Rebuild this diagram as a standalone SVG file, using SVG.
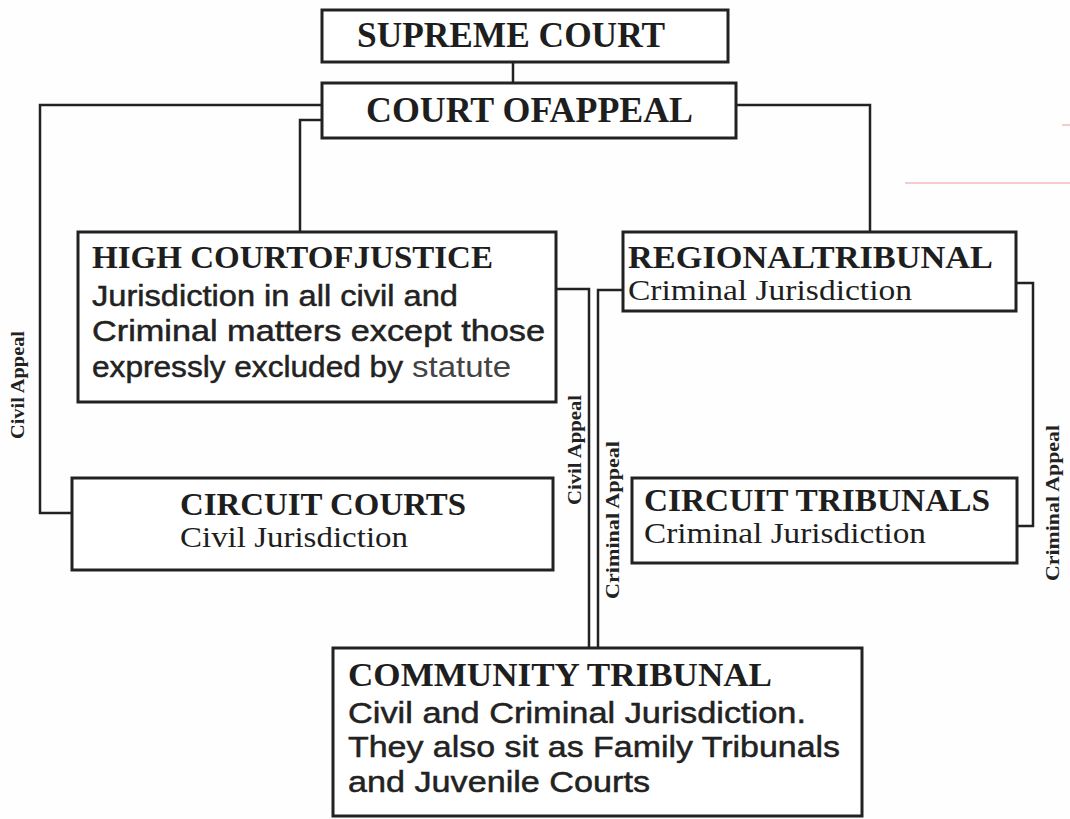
<svg xmlns="http://www.w3.org/2000/svg" width="1070" height="819" viewBox="0 0 1070 819">
<style>
.box{fill:#fff;stroke:#222;stroke-width:3}
.ln{fill:none;stroke:#222;stroke-width:2.5}
.hd{font-family:"Liberation Serif",serif;font-weight:bold;fill:#1e1e1e}
.sr{font-family:"Liberation Serif",serif;fill:#1e1e1e}
.ss{font-family:"Liberation Sans",Arial,sans-serif;fill:#222;stroke:#222;stroke-width:0.5}
.lt{font-family:"Liberation Sans",Arial,sans-serif;fill:#444}
.lbl{font-family:"Liberation Serif",serif;font-weight:bold;fill:#222;font-size:19px}
</style>
<rect width="1070" height="819" fill="#fefefe"/>
<line x1="905" y1="183" x2="1070" y2="183" stroke="#e99" stroke-width="1"/>
<line x1="1062" y1="125" x2="1070" y2="125" stroke="#e99" stroke-width="1"/>
<g id="connectors">
<path class="ln" d="M513 62V83"/>
<path class="ln" d="M322 105H40V513H72"/>
<path class="ln" d="M322 120H300V232"/>
<path class="ln" d="M736 105H870V232"/>
<path class="ln" d="M556 289H589V648"/>
<path class="ln" d="M623 290H598V648"/>
<path class="ln" d="M1016 283H1033V526H1017"/>
<text class="lbl" transform="translate(24,385) rotate(-90)" text-anchor="middle" textLength="108" lengthAdjust="spacingAndGlyphs">Civil Appeal</text>
<text class="lbl" transform="translate(581,450) rotate(-90)" text-anchor="middle" textLength="110" lengthAdjust="spacingAndGlyphs">Civil Appeal</text>
<text class="lbl" transform="translate(619,520) rotate(-90)" text-anchor="middle" textLength="158" lengthAdjust="spacingAndGlyphs">Criminal Appeal</text>
<text class="lbl" transform="translate(1059,503) rotate(-90)" text-anchor="middle" textLength="156" lengthAdjust="spacingAndGlyphs">Criminal Appeal</text>
</g>
<g id="supreme">
<rect class="box" x="322" y="10" width="406" height="52"/>
<text class="hd" x="357" y="47" font-size="36" textLength="308" lengthAdjust="spacingAndGlyphs">SUPREME COURT</text>
</g>
<g id="appeal">
<rect class="box" x="322" y="83" width="414" height="55"/>
<text class="hd" x="366" y="122" font-size="36" textLength="327" lengthAdjust="spacingAndGlyphs">COURT OFAPPEAL</text>
</g>
<g id="high">
<rect class="box" x="78" y="232" width="478" height="170"/>
<text class="hd" x="92" y="268" font-size="31" textLength="401" lengthAdjust="spacingAndGlyphs">HIGH COURTOFJUSTICE</text>
<text class="ss" x="92" y="306" font-size="30" textLength="366" lengthAdjust="spacingAndGlyphs">Jurisdiction in all civil and</text>
<text class="ss" x="92" y="341" font-size="30" textLength="453" lengthAdjust="spacingAndGlyphs">Criminal matters except those</text>
<text class="ss" x="92" y="377" font-size="30" textLength="311" lengthAdjust="spacingAndGlyphs">expressly excluded by</text>
<text class="lt" x="412" y="377" font-size="30" textLength="99" lengthAdjust="spacingAndGlyphs">statute</text>
</g>
<g id="regional">
<rect class="box" x="623" y="232" width="393" height="79"/>
<text class="hd" x="628" y="268" font-size="31" textLength="365" lengthAdjust="spacingAndGlyphs">REGIONALTRIBUNAL</text>
<text class="sr" x="628" y="300" font-size="29" textLength="284" lengthAdjust="spacingAndGlyphs">Criminal Jurisdiction</text>
</g>
<g id="circuit-courts">
<rect class="box" x="72" y="478" width="481" height="92"/>
<text class="hd" x="180" y="515" font-size="31" textLength="286" lengthAdjust="spacingAndGlyphs">CIRCUIT COURTS</text>
<text class="sr" x="180" y="547" font-size="29" textLength="228" lengthAdjust="spacingAndGlyphs">Civil Jurisdiction</text>
</g>
<g id="circuit-tribunals">
<rect class="box" x="632" y="478" width="385" height="85"/>
<text class="hd" x="644" y="511" font-size="31" textLength="346" lengthAdjust="spacingAndGlyphs">CIRCUIT TRIBUNALS</text>
<text class="sr" x="644" y="543" font-size="29" textLength="282" lengthAdjust="spacingAndGlyphs">Criminal Jurisdiction</text>
</g>
<g id="community">
<rect class="box" x="333" y="648" width="529" height="168"/>
<text class="hd" x="348" y="686" font-size="33" textLength="424" lengthAdjust="spacingAndGlyphs">COMMUNITY TRIBUNAL</text>
<text class="ss" x="348" y="723" font-size="30" textLength="458" lengthAdjust="spacingAndGlyphs">Civil and Criminal Jurisdiction.</text>
<text class="ss" x="348" y="757" font-size="30" textLength="492" lengthAdjust="spacingAndGlyphs">They also sit as Family Tribunals</text>
<text class="ss" x="348" y="792" font-size="30" textLength="302" lengthAdjust="spacingAndGlyphs">and Juvenile Courts</text>
</g>
</svg>
